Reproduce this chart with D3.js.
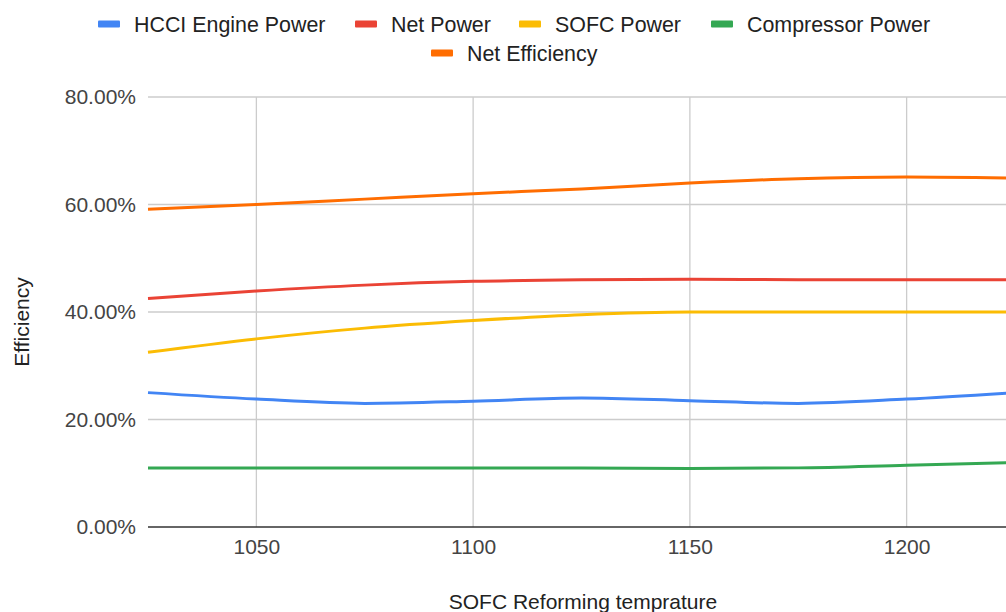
<!DOCTYPE html>
<html>
<head>
<meta charset="utf-8">
<script src="https://cdn.jsdelivr.net/npm/d3@7"></script>
<style>
  html, body { margin: 0; padding: 0; background: #fff; overflow: hidden; }
  svg { display: block; font-family: "Liberation Sans", Arial, sans-serif; }
</style>
</head>
<body>
<svg id="chart" width="1006" height="612"></svg>
<script>
// Reforming temperatures (x) and series values (fractions)
const temperatures = [1025, 1050, 1075, 1100, 1125, 1150, 1175, 1200, 1225];
const hcciEnginePower = [0.250, 0.238, 0.230, 0.234, 0.240, 0.235, 0.230, 0.238, 0.250];
const netPower        = [0.425, 0.439, 0.450, 0.457, 0.460, 0.461, 0.460, 0.460, 0.460];
const sofcPower       = [0.325, 0.350, 0.370, 0.384, 0.395, 0.400, 0.400, 0.400, 0.400];
const compressorPower = [0.110, 0.110, 0.110, 0.110, 0.110, 0.109, 0.110, 0.115, 0.120];
const netEfficiency   = [0.591, 0.600, 0.610, 0.620, 0.629, 0.640, 0.648, 0.651, 0.649];

const seriesNames  = ["HCCI Engine Power", "Net Power", "SOFC Power", "Compressor Power", "Net Efficiency"];
const seriesColors = ["#4285F4", "#EA4335", "#FBBC04", "#34A853", "#FF6D01"];
const seriesValues = [hcciEnginePower, netPower, sofcPower, compressorPower, netEfficiency];

const xTicks = [1050, 1100, 1150, 1200];
const yTicks = [0, 0.2, 0.4, 0.6, 0.8];

const FONT = "'Liberation Sans', Arial, sans-serif";
const svg = d3.select("#chart");

const x = d3.scaleLinear().domain([1025, 1225]).range([148, 1015]);
const y = d3.scaleLinear().domain([0, 0.8]).range([527, 97]);

// Gridlines
svg.append("g").selectAll("line").data(yTicks.filter(d => d > 0)).join("line")
  .attr("x1", x(1025)).attr("x2", 1006)
  .attr("y1", d => y(d)).attr("y2", d => y(d))
  .attr("stroke", "#cccccc").attr("stroke-width", 1.3);
svg.append("g").selectAll("line").data(xTicks).join("line")
  .attr("x1", d => x(d)).attr("x2", d => x(d))
  .attr("y1", y(0.8)).attr("y2", y(0))
  .attr("stroke", "#cccccc").attr("stroke-width", 1.3);

// Y tick labels
const yAxis = d3.axisLeft(y).tickValues(yTicks).tickFormat(d3.format(".2%")).tickSize(0).tickPadding(12);
const gy = svg.append("g").attr("transform", `translate(${x(1025)},0)`).call(yAxis);
gy.select(".domain").remove();
gy.selectAll("text").attr("font-size", 21).attr("fill", "#444").attr("font-family", FONT);

// X tick labels
const xAxis = d3.axisBottom(x).tickValues(xTicks).tickFormat(d3.format("d")).tickSize(0).tickPadding(12);
const gx = svg.append("g").attr("transform", `translate(0,${y(0)})`).call(xAxis);
gx.select(".domain").remove();
gx.selectAll("text").attr("font-size", 21).attr("fill", "#444").attr("font-family", FONT);

// Baseline
svg.append("line")
  .attr("x1", x(1025)).attr("x2", 1006)
  .attr("y1", y(0)).attr("y2", y(0))
  .attr("stroke", "#333").attr("stroke-width", 1.5);

// Series lines
const line = d3.line()
  .x((d, i) => x(temperatures[i]))
  .y(d => y(d))
  .curve(d3.curveMonotoneX);

svg.append("g").selectAll("path").data(seriesValues).join("path")
  .attr("d", d => line(d))
  .attr("fill", "none")
  .attr("stroke", (d, i) => seriesColors[i])
  .attr("stroke-width", 3)
  .attr("stroke-linejoin", "round");

// Axis titles
svg.append("text")
  .attr("x", 583).attr("y", 609)
  .attr("text-anchor", "middle")
  .attr("font-size", 21).attr("fill", "#222")
  .text("SOFC Reforming temprature");

svg.append("text")
  .attr("transform", "translate(29,322) rotate(-90)")
  .attr("text-anchor", "middle")
  .attr("font-size", 21).attr("fill", "#222")
  .text("Efficiency");

// Legend
const legendItems = [
  { i: 0, x: 98,  y: 24 },
  { i: 1, x: 355, y: 24 },
  { i: 2, x: 519, y: 24 },
  { i: 3, x: 711, y: 24 },
  { i: 4, x: 431, y: 53 }
];
const lg = svg.append("g").selectAll("g").data(legendItems).join("g")
  .attr("transform", d => `translate(${d.x},${d.y})`);
lg.append("rect")
  .attr("x", 0).attr("y", -3.5).attr("width", 22).attr("height", 7).attr("rx", 1)
  .attr("fill", d => seriesColors[d.i]);
lg.append("text")
  .attr("x", 36).attr("y", 0).attr("dy", "0.36em")
  .attr("font-size", 21.4).attr("fill", "#222")
  .text(d => seriesNames[d.i]);
</script>
</body>
</html>
